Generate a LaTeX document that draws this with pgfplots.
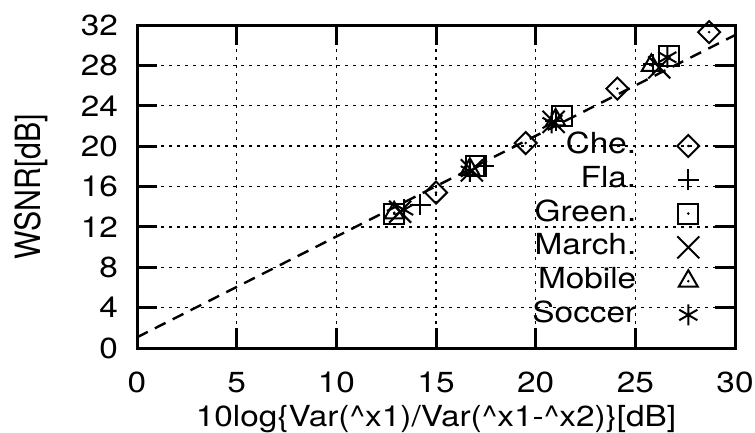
\documentclass[border=0pt]{standalone}
\usepackage{fontspec}
\setmainfont[FakeStretch=1.15]{TeX Gyre Heros}
\newfontfamily\ylabfont[FakeStretch=0.87]{TeX Gyre Heros}
\usepackage{pgfplots}
\pgfplotsset{compat=1.18}

% marks with a centre dot
\pgfdeclareplotmark{dsquare}{%
  \pgfpathrectangle{\pgfqpoint{-\pgfplotmarksize}{-\pgfplotmarksize}}{\pgfqpoint{2\pgfplotmarksize}{2\pgfplotmarksize}}%
  \pgfusepathqstroke
  \pgfpathcircle{\pgfpointorigin}{0.7pt}\pgfusepathqfill}
\pgfdeclareplotmark{ddiamond}{%
  \pgfpathmoveto{\pgfqpoint{0pt}{\pgfplotmarksize}}%
  \pgfpathlineto{\pgfqpoint{\pgfplotmarksize}{0pt}}%
  \pgfpathlineto{\pgfqpoint{0pt}{-\pgfplotmarksize}}%
  \pgfpathlineto{\pgfqpoint{-\pgfplotmarksize}{0pt}}%
  \pgfpathclose\pgfusepathqstroke
  \pgfpathcircle{\pgfpointorigin}{0.7pt}\pgfusepathqfill}
\pgfdeclareplotmark{dtriangle}{%
  \pgfpathmoveto{\pgfqpoint{0pt}{\pgfplotmarksize}}%
  \pgfpathlineto{\pgfqpoint{-.8660254\pgfplotmarksize}{-.5\pgfplotmarksize}}%
  \pgfpathlineto{\pgfqpoint{.8660254\pgfplotmarksize}{-.5\pgfplotmarksize}}%
  \pgfpathclose\pgfusepathqstroke
  \pgfpathcircle{\pgfpointorigin}{0.7pt}\pgfusepathqfill}

\begin{document}
\begin{tikzpicture}
\begin{axis}[
  scale only axis, width=299pt, height=161.5pt,
  xmin=0, xmax=30, ymin=0, ymax=32,
  xtick={0,5,...,30}, ytick={0,4,...,32},
  clip=false,
  grid=major,
  grid style={black, line width=0.7pt, dash pattern=on 1.5pt off 2.5pt},
  axis line style={line width=1.5pt},
  tick style={line width=1.5pt, black},
  major tick length=10pt,
  tick align=inside,
  /pgf/number format/assume math mode=true,
  tick label style={font=\fontsize{14.5}{17}\selectfont},
  xticklabel style={yshift=-8.5pt},
  yticklabel style={xshift=-6pt},
  xlabel={10log\{Var(\textasciicircum x1)/Var(\textasciicircum x1-\textasciicircum x2)\}[dB]},
  xlabel style={at={(axis description cs:0.5,-0.2415)}, anchor=base, font=\fontsize{14.5}{17}\selectfont},
  ylabel={WSNR[dB]},
  ylabel style={at={(axis description cs:-0.1622,0.5)}, anchor=base, font=\ylabfont\fontsize{17.4}{20}\selectfont},
  legend plot pos=right,
  legend cell align=right,
  legend style={draw=none, fill=none, at={(0.951,0.684)}, anchor=north east,
    font=\fontsize{14.5}{17}\selectfont, row sep=2.4pt, column sep=20pt,
    nodes={inner sep=0.5pt, text height=10.5pt, text depth=3pt}},
  every axis plot/.append style={black, line width=1pt},
]
% least-squares fit
\addplot[forget plot, line width=1.2pt, dash pattern=on 6pt off 4pt] coordinates {(0,1.06) (30,31.0)};

\addplot[only marks, mark=ddiamond, mark size=5.5pt] coordinates {(15.0,15.4) (19.5,20.3) (24.1,25.7) (28.7,31.3)};
\addlegendentry{Che.}
\addplot[only marks, mark=+, mark size=5.25pt] coordinates {(14.2,14.2) (17.4,18.0) (21.0,22.5) (25.9,28.1)};
\addlegendentry{Fla.}
\addplot[only marks, mark=dsquare, mark size=5pt] coordinates {(12.9,13.3) (17.0,18.0) (21.3,23.0) (26.7,28.9)};
\addlegendentry{Green.}
\addplot[only marks, mark=x, mark size=7.8pt] coordinates {(13.2,13.5) (16.8,17.6) (20.9,22.4) (26.2,27.8)};
\addlegendentry{March.}
\addplot[only marks, mark=dtriangle, mark size=5.5pt] coordinates {(12.9,13.4) (16.7,17.7) (21.0,22.6) (25.8,28.0)};
\addlegendentry{Mobile}
\addplot[only marks, mark=asterisk, mark size=5.25pt] coordinates {(13.4,13.7) (16.7,17.5) (20.8,22.3) (26.6,28.8)};
\addlegendentry{Soccer}

\coordinate (bbsw) at (rel axis cs:-0.2291,-0.2601);
\coordinate (bbne) at (rel axis cs:1.0334,1.0774);
\end{axis}
\pgfresetboundingbox
\useasboundingbox (bbsw) rectangle (bbne);
\end{tikzpicture}
\end{document}
